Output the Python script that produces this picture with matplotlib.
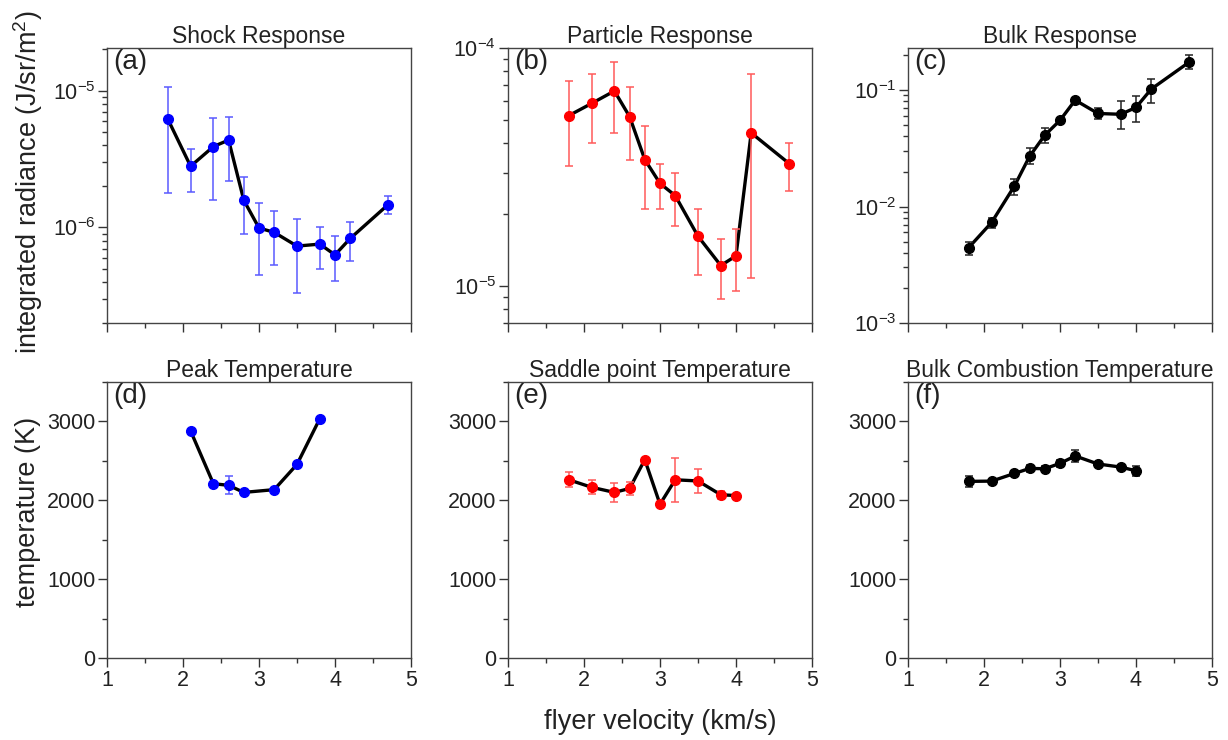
import matplotlib
matplotlib.use('Agg')
import matplotlib.pyplot as plt
from matplotlib.ticker import MultipleLocator, LogLocator, NullFormatter

plt.rcParams['font.family'] = ['Liberation Sans', 'DejaVu Sans']
plt.rcParams['mathtext.fontset'] = 'custom'
plt.rcParams['mathtext.rm'] = 'Liberation Sans'
plt.rcParams['mathtext.it'] = 'Liberation Sans:italic'
plt.rcParams['axes.unicode_minus'] = False

# ---- data ----
velocity = [1.8, 2.1, 2.4, 2.6, 2.8, 3.0, 3.2, 3.5, 3.8, 4.0, 4.2, 4.7]

shock = [6.2e-6, 2.8e-6, 3.9e-6, 4.35e-6, 1.58e-6, 9.9e-7, 9.2e-7, 7.3e-7, 7.55e-7, 6.3e-7, 8.3e-7, 1.47e-6]
shock_hi = [1.06e-5, 3.77e-6, 6.3e-6, 6.45e-6, 2.32e-6, 1.52e-6, 1.32e-6, 1.15e-6, 1.01e-6, 8.65e-7, 1.09e-6, 1.69e-6]
shock_lo = [1.77e-6, 1.83e-6, 1.58e-6, 2.19e-6, 8.9e-7, 4.5e-7, 5.3e-7, 3.34e-7, 4.95e-7, 4.07e-7, 5.64e-7, 1.26e-6]

particle = [5.2e-5, 5.85e-5, 6.6e-5, 5.15e-5, 3.4e-5, 2.7e-5, 2.4e-5, 1.62e-5, 1.22e-5, 1.34e-5, 4.4e-5, 3.27e-5]
particle_hi = [7.3e-5, 7.8e-5, 8.7e-5, 6.85e-5, 4.7e-5, 3.25e-5, 3.0e-5, 2.1e-5, 1.57e-5, 1.73e-5, 7.8e-5, 4.0e-5]
particle_lo = [3.2e-5, 4.0e-5, 4.4e-5, 3.4e-5, 2.1e-5, 2.1e-5, 1.78e-5, 1.11e-5, 8.8e-6, 9.5e-6, 1.08e-5, 2.5e-5]

bulk = [4.45e-3, 7.3e-3, 0.015, 0.027, 0.041, 0.055, 0.082, 0.063, 0.062, 0.071, 0.102, 0.174]
bulk_hi = [5.0e-3, 8.0e-3, 0.0173, 0.032, 0.047, 0.058, 0.086, 0.070, 0.081, 0.089, 0.124, 0.199]
bulk_lo = [3.8e-3, 6.5e-3, 0.0126, 0.023, 0.035, 0.052, 0.078, 0.057, 0.0465, 0.053, 0.077, 0.152]

v_peak = [2.1, 2.4, 2.6, 2.8, 3.2, 3.5, 3.8]
peak_T = [2880, 2210, 2190, 2100, 2135, 2455, 3035]
peak_err = [20, 20, 115, 20, 20, 20, 20]

v_temp = [1.8, 2.1, 2.4, 2.6, 2.8, 3.0, 3.2, 3.5, 3.8, 4.0]
saddle_T = [2260, 2165, 2100, 2150, 2515, 1950, 2260, 2245, 2070, 2060]
saddle_err = [95, 90, 120, 80, 20, 20, 280, 155, 50, 20]

comb_T = [2240, 2243, 2340, 2404, 2400, 2468, 2562, 2460, 2421, 2374]
comb_err = [70, 30, 30, 40, 30, 40, 75, 30, 30, 65]

W, H = 1228, 740
fig = plt.figure(figsize=(W / 100, H / 100), dpi=100)

lefts = [107, 508, 908]
aw = 304


def make_ax(col, top, bottom):
    return fig.add_axes([lefts[col] / W, 1 - bottom / H, aw / W, (bottom - top) / H])


def style(ax, label, title, show_xlabels):
    ax.set_xlim(1, 5)
    ax.xaxis.set_major_locator(MultipleLocator(1))
    ax.xaxis.set_minor_locator(MultipleLocator(0.5))
    ax.tick_params(which='major', direction='out', length=6.5, width=1, labelsize=15.5, colors='#333333',
                   labelcolor='#222222', top=False, right=False, pad=2)
    ax.tick_params(which='minor', direction='out', length=3.5, width=1, colors='#333333', top=False, right=False)
    if not show_xlabels:
        ax.tick_params(axis='x', labelbottom=False)
    for s in ax.spines.values():
        s.set_color('#444444')
        s.set_linewidth(1.0)
    ax.set_title(title, fontsize=16.5, pad=3, color='#222222')
    ax.text(0.02, 0.995, label, transform=ax.transAxes, ha='left', va='top', fontsize=20, color='#222222')


def draw(ax, x, y, yerr, mcol, ecol):
    ax.plot(x, y, '-', color='black', lw=2.4, zorder=2)
    ax.errorbar(x, y, yerr=yerr, fmt='none', ecolor=ecol, elinewidth=1.1, capsize=3.2, capthick=1.1, zorder=3)
    ax.plot(x, y, 'o', color=mcol, ms=7, mec=mcol, zorder=4)


def asym(y, lo, hi):
    return [[a - b for a, b in zip(y, lo)], [b - a for a, b in zip(y, hi)]]


top_row = (48, 323)
bot_row = (382, 658)

ax_a = make_ax(0, *top_row)
ax_b = make_ax(1, *top_row)
ax_c = make_ax(2, *top_row)
ax_d = make_ax(0, *bot_row)
ax_e = make_ax(1, *bot_row)
ax_f = make_ax(2, *bot_row)

draw(ax_a, velocity, shock, asym(shock, shock_lo, shock_hi), '#0000ff', '#5a5aff')
draw(ax_b, velocity, particle, asym(particle, particle_lo, particle_hi), '#ff0000', '#ff5a5a')
draw(ax_c, velocity, bulk, asym(bulk, bulk_lo, bulk_hi), 'black', '#222222')

for ax in (ax_a, ax_b, ax_c):
    ax.set_yscale('log')
    ax.yaxis.set_major_locator(LogLocator(base=10))
    ax.yaxis.set_minor_locator(LogLocator(base=10, subs=range(2, 10)))
    ax.yaxis.set_minor_formatter(NullFormatter())
ax_a.set_ylim(2.0e-7, 2.05e-5)
ax_b.set_ylim(7.0e-6, 1.0e-4)
ax_c.set_ylim(1.0e-3, 0.23)

draw(ax_d, v_peak, peak_T, peak_err, '#0000ff', '#5a5aff')
draw(ax_e, v_temp, saddle_T, saddle_err, '#ff0000', '#ff5a5a')
draw(ax_f, v_temp, comb_T, comb_err, 'black', '#222222')

for ax in (ax_d, ax_e, ax_f):
    ax.set_ylim(0, 3500)
    ax.yaxis.set_major_locator(MultipleLocator(1000))
    ax.yaxis.set_minor_locator(MultipleLocator(500))

style(ax_a, '(a)', 'Shock Response', False)
style(ax_b, '(b)', 'Particle Response', False)
style(ax_c, '(c)', 'Bulk Response', False)
style(ax_d, '(d)', 'Peak Temperature', True)
style(ax_e, '(e)', 'Saddle point Temperature', True)
style(ax_f, '(f)', 'Bulk Combustion Temperature', True)

fig.text(28 / W, 1 - 182 / H, 'integrated radiance (J/sr/m$^2$)', rotation=90, ha='center', va='center',
         fontsize=19.5, color='#222222')
fig.text(28 / W, 1 - 512 / H, 'temperature (K)', rotation=90, ha='center', va='center',
         fontsize=19.5, color='#222222')
fig.text(660 / W, 1 - 722 / H, 'flyer velocity (km/s)', ha='center', va='center',
         fontsize=19.5, color='#222222')

fig.savefig('out.png', dpi=100)
